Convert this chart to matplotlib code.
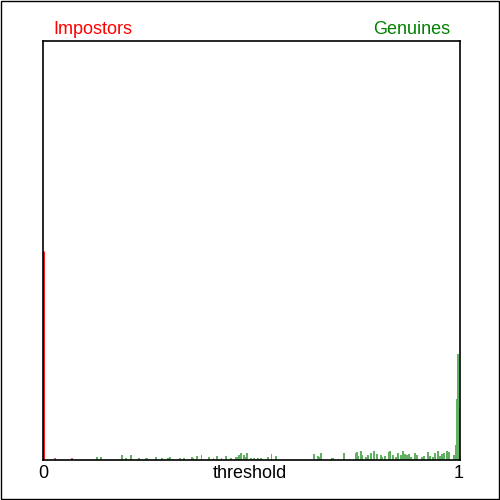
"""
Impostor vs genuine score distributions over the threshold range
"""

import numpy as np
import matplotlib.pyplot as plt
from matplotlib.patches import Rectangle

plt.rcParams['font.family'] = ['Liberation Sans', 'DejaVu Sans']

# Distribuciones (frecuencia relativa en %)
impostor_t = [0.0, 0.029, 0.07]
impostor_h = [20.0, 0.15, 0.15]

genuine_t = [0.130, 0.139, 0.190, 0.200, 0.212, 0.231, 0.247, 0.250,
             0.270, 0.286, 0.300, 0.305, 0.329, 0.339, 0.358, 0.361, 0.370, 0.380,
             0.399, 0.409, 0.418, 0.428, 0.438, 0.450, 0.462, 0.466, 0.469, 0.474,
             0.476, 0.481, 0.486, 0.490, 0.498, 0.507, 0.515, 0.522, 0.540, 0.548,
             0.558, 0.649, 0.651, 0.659, 0.663, 0.666, 0.692, 0.695, 0.721,
             0.750, 0.752, 0.756, 0.762, 0.766, 0.774, 0.779, 0.786, 0.793, 0.801,
             0.810, 0.814, 0.820, 0.829, 0.832, 0.839, 0.846, 0.851, 0.859, 0.863,
             0.868, 0.873, 0.877, 0.882, 0.892, 0.897, 0.909, 0.913, 0.923, 0.928,
             0.935, 0.940, 0.947, 0.951, 0.957, 0.962, 0.969, 0.974,
             0.986, 0.990, 0.993, 0.996, 0.999]
genuine_h = [0.3, 0.3, 0.5, 0.2, 0.5, 0.15, 0.15, 0.15,
             0.3, 0.15, 0.15, 0.3, 0.15, 0.15, 0.3, 0.15, 0.4, 0.5,
             0.3, 0.15, 0.4, 0.15, 0.4, 0.15, 0.3, 0.3, 0.5, 0.7,
             0.6, 0.5, 0.3, 0.7, 0.15, 0.15, 0.15, 0.15, 0.3, 0.6,
             0.4, 0.6, 0.5, 0.4, 0.3, 0.7, 0.15, 0.15, 0.7,
             0.7, 0.8, 0.4, 0.9, 0.5, 0.3, 0.5, 0.7, 0.9, 0.6,
             0.5, 0.3, 0.4, 0.8, 0.9, 0.5, 0.3, 0.7, 0.5, 0.9,
             0.6, 0.5, 0.6, 0.3, 0.7, 0.5, 0.3, 0.4, 0.8, 0.4,
             0.3, 0.7, 0.9, 0.4, 0.6, 0.7, 0.9, 0.8,
             0.5, 1.4, 5.8, 10.1, 5.0]

fig = plt.figure(figsize=(5, 5), dpi=100)
ax = fig.add_axes([0.086, 0.08, 0.834, 0.838])

ax.bar(genuine_t, genuine_h, width=0.0045, color='#62b062',
       linewidth=0, align='center')
ax.bar(impostor_t[1:], impostor_h[1:], width=0.0045, color='#e06060',
       linewidth=0)
ax.vlines(impostor_t[0], 0, impostor_h[0], color='red', linewidth=2)

ax.set_xlim(0, 1)
ax.set_ylim(0, 40)
ax.set_xticks([])
ax.set_yticks([])
for s in ax.spines.values():
    s.set_linewidth(1.2)
    s.set_color('black')

# Etiquetas
fig.text(0.106, 0.942, 'Impostors', color='red', fontsize=13, ha='left', va='center')
fig.text(0.90, 0.942, 'Genuines', color='green', fontsize=13, ha='right', va='center')
fig.text(0.086, 0.052, '0', fontsize=13, ha='center', va='center')
fig.text(0.918, 0.052, '1', fontsize=13, ha='center', va='center')
fig.text(0.50, 0.052, 'threshold', fontsize=13, ha='center', va='center')

# Marco de la figura
fig.patches.append(Rectangle((0.002, 0.002), 0.996, 0.996, transform=fig.transFigure,
                             fill=False, edgecolor='black', linewidth=1.0))

plt.savefig('out.png', dpi=100)
